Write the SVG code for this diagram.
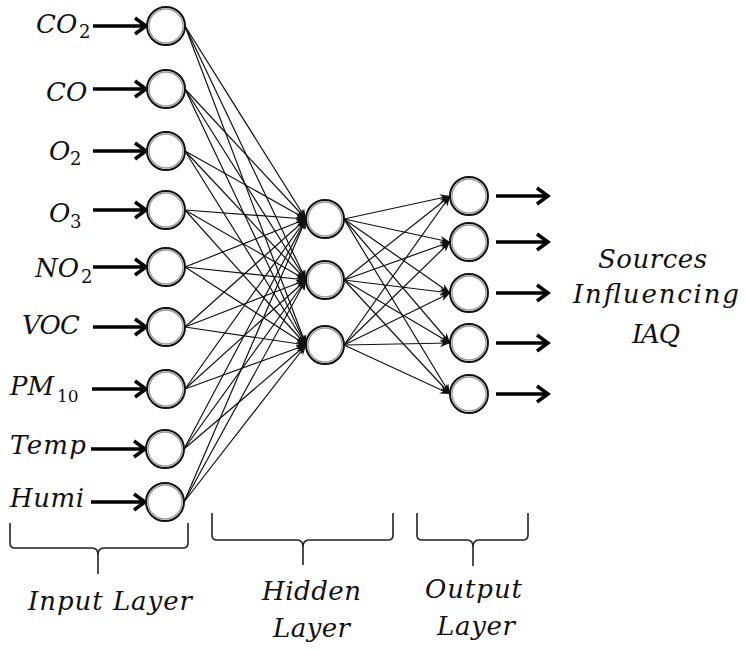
<svg xmlns="http://www.w3.org/2000/svg" width="746" height="650" viewBox="0 0 746 650">
<style>
  .lbl { font-family: "DejaVu Serif", "Liberation Serif", serif; font-style: italic; font-size: 26px; fill: #111; }
  .sub { font-size: 18px; font-style: normal; }
  .sub2 { font-size: 17px; font-style: normal; }
  .node { fill: #fff; stroke: #111; stroke-width: 2; }
  .ring { fill: none; stroke: #9a9a9a; stroke-width: 1.3; }
  .conn { stroke: #111; stroke-width: 1.2; fill: none; marker-end: url(#ah); }
  .io { stroke: #000; stroke-width: 3.5; fill: none; marker-end: url(#chev); }
  .brace { stroke: #222; stroke-width: 1.6; fill: none; }
</style>
<defs>
  <marker id="ah" markerUnits="userSpaceOnUse" markerWidth="12" markerHeight="10" refX="10" refY="4" orient="auto">
    <path d="M0,0 L10,4 L0,8 L3,4 Z" fill="#111"/>
  </marker>
  <marker id="chev" markerUnits="userSpaceOnUse" markerWidth="16" markerHeight="22" refX="13" refY="10" orient="auto">
    <path d="M2,2 L13,10 L2,18" fill="none" stroke="#000" stroke-width="3.5" stroke-linejoin="miter"/>
  </marker>
</defs>
<rect width="746" height="650" fill="#fff"/>

<g id="connectors">
  <g id="in-hidden">
    <line class="conn" x1="185" y1="26" x2="306" y2="219"/>
    <line class="conn" x1="185" y1="26" x2="306" y2="280"/>
    <line class="conn" x1="185" y1="26" x2="306" y2="345"/>
    <line class="conn" x1="185" y1="89" x2="306" y2="219"/>
    <line class="conn" x1="185" y1="89" x2="306" y2="280"/>
    <line class="conn" x1="185" y1="89" x2="306" y2="345"/>
    <line class="conn" x1="185" y1="151" x2="306" y2="219"/>
    <line class="conn" x1="185" y1="151" x2="306" y2="280"/>
    <line class="conn" x1="185" y1="151" x2="306" y2="345"/>
    <line class="conn" x1="185" y1="210" x2="306" y2="219"/>
    <line class="conn" x1="185" y1="210" x2="306" y2="280"/>
    <line class="conn" x1="185" y1="210" x2="306" y2="345"/>
    <line class="conn" x1="185" y1="267" x2="306" y2="219"/>
    <line class="conn" x1="185" y1="267" x2="306" y2="280"/>
    <line class="conn" x1="185" y1="267" x2="306" y2="345"/>
    <line class="conn" x1="185" y1="327" x2="306" y2="219"/>
    <line class="conn" x1="185" y1="327" x2="306" y2="280"/>
    <line class="conn" x1="185" y1="327" x2="306" y2="345"/>
    <line class="conn" x1="185" y1="389" x2="306" y2="219"/>
    <line class="conn" x1="185" y1="389" x2="306" y2="280"/>
    <line class="conn" x1="185" y1="389" x2="306" y2="345"/>
    <line class="conn" x1="184" y1="449" x2="306" y2="219"/>
    <line class="conn" x1="184" y1="449" x2="306" y2="280"/>
    <line class="conn" x1="184" y1="449" x2="306" y2="345"/>
    <line class="conn" x1="184" y1="502" x2="306" y2="219"/>
    <line class="conn" x1="184" y1="502" x2="306" y2="280"/>
    <line class="conn" x1="184" y1="502" x2="306" y2="345"/>
  </g>
  <g id="hidden-out">
    <line class="conn" x1="344" y1="219" x2="450" y2="196"/>
    <line class="conn" x1="344" y1="219" x2="450" y2="242"/>
    <line class="conn" x1="344" y1="219" x2="450" y2="293"/>
    <line class="conn" x1="344" y1="219" x2="450" y2="343"/>
    <line class="conn" x1="344" y1="219" x2="450" y2="394"/>
    <line class="conn" x1="344" y1="280" x2="450" y2="196"/>
    <line class="conn" x1="344" y1="280" x2="450" y2="242"/>
    <line class="conn" x1="344" y1="280" x2="450" y2="293"/>
    <line class="conn" x1="344" y1="280" x2="450" y2="343"/>
    <line class="conn" x1="344" y1="280" x2="450" y2="394"/>
    <line class="conn" x1="344" y1="345" x2="450" y2="196"/>
    <line class="conn" x1="344" y1="345" x2="450" y2="242"/>
    <line class="conn" x1="344" y1="345" x2="450" y2="293"/>
    <line class="conn" x1="344" y1="345" x2="450" y2="343"/>
    <line class="conn" x1="344" y1="345" x2="450" y2="394"/>
  </g>
  <g id="in-arrows">
    <line class="io" x1="93" y1="26" x2="146" y2="26"/>
    <line class="io" x1="93" y1="89" x2="146" y2="89"/>
    <line class="io" x1="93" y1="151" x2="146" y2="151"/>
    <line class="io" x1="93" y1="210" x2="146" y2="210"/>
    <line class="io" x1="93" y1="267" x2="146" y2="267"/>
    <line class="io" x1="93" y1="327" x2="146" y2="327"/>
    <line class="io" x1="92" y1="389" x2="146" y2="389"/>
    <line class="io" x1="91" y1="449" x2="145" y2="449"/>
    <line class="io" x1="91" y1="502" x2="145" y2="502"/>
  </g>
  <g id="out-arrows">
    <line class="io" x1="496" y1="196" x2="548" y2="196"/>
    <line class="io" x1="496" y1="242" x2="548" y2="242"/>
    <line class="io" x1="496" y1="293" x2="548" y2="293"/>
    <line class="io" x1="496" y1="343" x2="548" y2="343"/>
    <line class="io" x1="496" y1="394" x2="548" y2="394"/>
  </g>
</g>

<g id="input-layer">
  <g id="in-co2"><circle class="node" cx="166" cy="26" r="19"/><circle class="ring" cx="166" cy="26" r="17"/></g>
  <g id="in-co"><circle class="node" cx="166" cy="89" r="19"/><circle class="ring" cx="166" cy="89" r="17"/></g>
  <g id="in-o2"><circle class="node" cx="166" cy="151" r="19"/><circle class="ring" cx="166" cy="151" r="17"/></g>
  <g id="in-o3"><circle class="node" cx="166" cy="210" r="19"/><circle class="ring" cx="166" cy="210" r="17"/></g>
  <g id="in-no2"><circle class="node" cx="166" cy="267" r="19"/><circle class="ring" cx="166" cy="267" r="17"/></g>
  <g id="in-voc"><circle class="node" cx="166" cy="327" r="19"/><circle class="ring" cx="166" cy="327" r="17"/></g>
  <g id="in-pm10"><circle class="node" cx="166" cy="389" r="19"/><circle class="ring" cx="166" cy="389" r="17"/></g>
  <g id="in-temp"><circle class="node" cx="165" cy="449" r="19"/><circle class="ring" cx="165" cy="449" r="17"/></g>
  <g id="in-humi"><circle class="node" cx="165" cy="502" r="19"/><circle class="ring" cx="165" cy="502" r="17"/></g>
</g>

<g id="hidden-layer">
  <g id="h1"><circle class="node" cx="325" cy="219" r="19"/><circle class="ring" cx="325" cy="219" r="17"/></g>
  <g id="h2"><circle class="node" cx="325" cy="280" r="19"/><circle class="ring" cx="325" cy="280" r="17"/></g>
  <g id="h3"><circle class="node" cx="325" cy="345" r="19"/><circle class="ring" cx="325" cy="345" r="17"/></g>
</g>

<g id="output-layer">
  <g id="o1"><circle class="node" cx="469" cy="196" r="19"/><circle class="ring" cx="469" cy="196" r="17"/></g>
  <g id="o2"><circle class="node" cx="469" cy="242" r="19"/><circle class="ring" cx="469" cy="242" r="17"/></g>
  <g id="o3"><circle class="node" cx="469" cy="293" r="19"/><circle class="ring" cx="469" cy="293" r="17"/></g>
  <g id="o4"><circle class="node" cx="469" cy="343" r="19"/><circle class="ring" cx="469" cy="343" r="17"/></g>
  <g id="o5"><circle class="node" cx="469" cy="394" r="19"/><circle class="ring" cx="469" cy="394" r="17"/></g>
</g>

<g id="input-labels">
  <text class="lbl" x="36" y="33">CO</text><text class="lbl sub" x="79" y="38">2</text>
  <text class="lbl" x="46" y="101">CO</text>
  <text class="lbl" x="49" y="160">O</text><text class="lbl sub" x="70" y="165">2</text>
  <text class="lbl" x="49" y="222">O</text><text class="lbl sub" x="70" y="228">3</text>
  <text class="lbl" x="35" y="277">NO</text><text class="lbl sub" x="81" y="283">2</text>
  <text class="lbl" x="22" y="334" textLength="58">VOC</text>
  <text class="lbl" x="10" y="395">PM</text><text class="lbl sub2" x="57" y="402">10</text>
  <text class="lbl" x="10" y="454" textLength="76">Temp</text>
  <text class="lbl" x="10" y="507" textLength="74">Humi</text>
</g>

<g id="output-label">
  <text class="lbl" x="598" y="268" textLength="109">Sources</text>
  <text class="lbl" x="573" y="303" textLength="166">Influencing</text>
  <text class="lbl" x="632" y="343" textLength="48">IAQ</text>
</g>

<g id="braces">
  <path class="brace" d="M10,523 L10,543 Q10,548 15,548 L92,548 Q98,548 98,555 L98,574 M98,555 Q98,548 104,548 L183,548 Q188,548 188,543 L188,523"/>
  <path class="brace" d="M212,513 L212,535 Q212,540 217,540 L297,540 Q303,540 303,547 L303,565 M303,547 Q303,540 309,540 L388,540 Q393,540 393,535 L393,513"/>
  <path class="brace" d="M417,513 L417,535 Q417,540 422,540 L467,540 Q473,540 473,547 L473,566 M473,547 Q473,540 479,540 L523,540 Q528,540 528,535 L528,513"/>
</g>

<g id="layer-labels">
  <text class="lbl" x="28" y="610" textLength="164">Input Layer</text>
  <text class="lbl" x="262" y="600" textLength="99">Hidden</text>
  <text class="lbl" x="273" y="637" textLength="77">Layer</text>
  <text class="lbl" x="425" y="598" textLength="97">Output</text>
  <text class="lbl" x="437" y="635" textLength="78">Layer</text>
</g>
</svg>
